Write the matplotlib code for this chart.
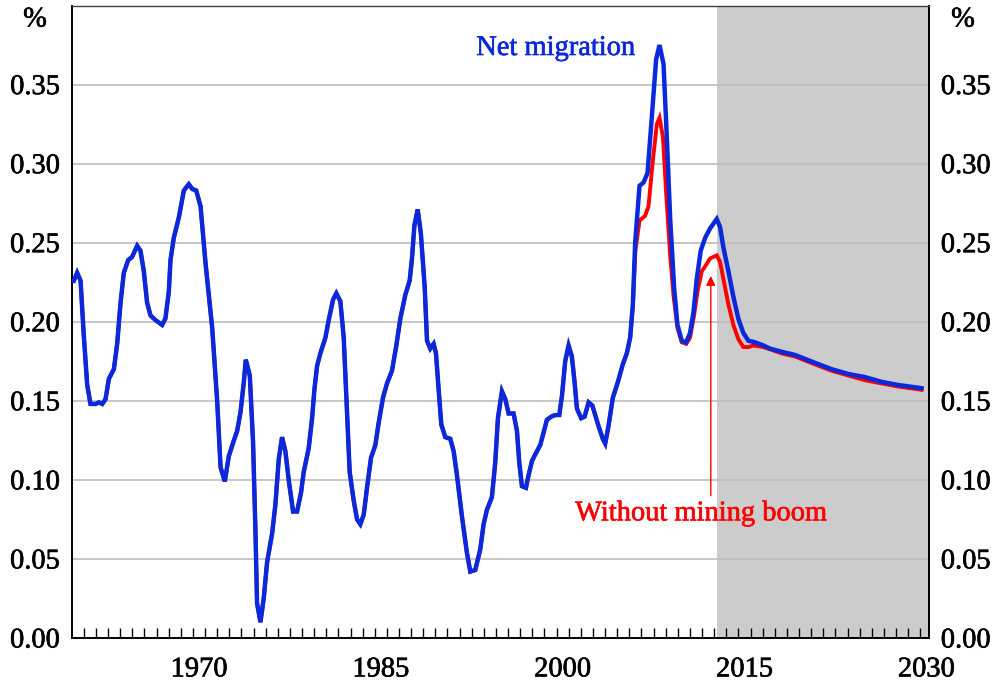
import numpy as np
import matplotlib
matplotlib.use("Agg")
import matplotlib.pyplot as plt
import matplotlib.patheffects as pe
from matplotlib.ticker import FixedLocator, NullFormatter, FixedFormatter

# ---------------- data ----------------
blue_t = [1960.18, 1960.45, 1960.73, 1961.00, 1961.28, 1961.55, 1961.97, 1962.24, 1962.52, 1962.79,
          1963.07, 1963.48, 1963.75, 1964.03, 1964.30, 1964.66, 1964.98, 1965.40, 1965.67, 1965.95,
          1966.22, 1966.50, 1966.91, 1967.46, 1967.73, 1968.01, 1968.15, 1968.42, 1968.84, 1969.25,
          1969.66, 1969.94, 1970.27, 1970.63, 1971.04, 1971.59, 1972.00, 1972.28, 1972.63, 1972.96,
          1973.38, 1973.65, 1973.93, 1974.20, 1974.36, 1974.69, 1974.96, 1975.16, 1975.29, 1975.57,
          1975.84, 1976.12, 1976.53, 1976.80, 1977.08, 1977.35, 1977.63, 1977.90, 1978.26, 1978.59,
          1978.92, 1979.14, 1979.55, 1979.83, 1980.02, 1980.24, 1980.51, 1980.93, 1981.20, 1981.56,
          1981.83, 1982.16, 1982.44, 1982.66, 1982.93, 1983.26, 1983.54, 1983.81, 1984.09, 1984.36,
          1984.69, 1985.05, 1985.32, 1985.68, 1986.01, 1986.42, 1986.78, 1987.11, 1987.52, 1987.88,
          1988.07, 1988.27, 1988.54, 1988.80, 1989.12, 1989.31, 1989.58, 1989.86, 1990.05, 1990.27,
          1990.49, 1990.82, 1991.23, 1991.51, 1991.78, 1992.19, 1992.60, 1992.88, 1993.29, 1993.70,
          1993.98, 1994.25, 1994.66, 1994.94, 1995.16, 1995.49, 1995.77, 1996.04, 1996.45, 1996.73,
          1996.92, 1997.14, 1997.47, 1997.69, 1997.97, 1998.30, 1998.65, 1998.93, 1999.20, 1999.56,
          1999.89, 2000.22, 2000.44, 2000.71, 2000.99, 2001.26, 2001.48, 2001.68, 2002.03, 2002.31,
          2002.64, 2002.95, 2003.46, 2003.81, 2004.01, 2004.28, 2004.64, 2005.02, 2005.46, 2005.79,
          2006.07, 2006.29, 2006.48, 2006.84, 2007.17, 2007.50, 2007.86, 2008.21, 2008.49, 2008.82,
          2009.09, 2009.37, 2009.70, 2009.97, 2010.33, 2010.69, 2011.01, 2011.29, 2011.56, 2011.89,
          2012.25, 2012.66, 2013.21, 2013.48, 2013.76, 2014.17, 2014.58, 2014.99, 2015.40, 2015.82,
          2016.37, 2017.06, 2017.61, 2018.57, 2019.67, 2021.32, 2022.69, 2024.06, 2025.44, 2026.81,
          2028.19, 2030.10]
blue_v = [0.226, 0.231, 0.226, 0.191, 0.160, 0.148, 0.148, 0.149, 0.148, 0.151,
          0.164, 0.170, 0.186, 0.212, 0.231, 0.239, 0.241, 0.248, 0.245, 0.232,
          0.212, 0.204, 0.201, 0.198, 0.202, 0.219, 0.239, 0.253, 0.266, 0.283,
          0.287, 0.284, 0.283, 0.273, 0.237, 0.196, 0.150, 0.108, 0.099, 0.115,
          0.125, 0.131, 0.143, 0.162, 0.176, 0.166, 0.124, 0.067, 0.022, 0.010,
          0.025, 0.048, 0.066, 0.084, 0.113, 0.127, 0.118, 0.100, 0.080, 0.080,
          0.092, 0.105, 0.120, 0.139, 0.157, 0.172, 0.180, 0.190, 0.201, 0.214,
          0.218, 0.213, 0.190, 0.152, 0.105, 0.087, 0.075, 0.072, 0.078, 0.095,
          0.114, 0.122, 0.136, 0.152, 0.161, 0.169, 0.185, 0.202, 0.217, 0.226,
          0.240, 0.261, 0.271, 0.256, 0.222, 0.188, 0.183, 0.186, 0.180, 0.157,
          0.135, 0.127, 0.126, 0.118, 0.103, 0.077, 0.054, 0.042, 0.043, 0.056,
          0.072, 0.081, 0.089, 0.111, 0.139, 0.156, 0.151, 0.142, 0.142, 0.131,
          0.111, 0.096, 0.095, 0.103, 0.112, 0.117, 0.122, 0.130, 0.138, 0.140,
          0.141, 0.141, 0.153, 0.175, 0.185, 0.178, 0.162, 0.145, 0.139, 0.140,
          0.149, 0.147, 0.134, 0.126, 0.123, 0.134, 0.152, 0.161, 0.173, 0.180,
          0.190, 0.211, 0.250, 0.286, 0.288, 0.294, 0.330, 0.366, 0.375, 0.363,
          0.317, 0.265, 0.221, 0.198, 0.188, 0.187, 0.193, 0.206, 0.227, 0.245,
          0.253, 0.259, 0.265, 0.260, 0.247, 0.232, 0.216, 0.202, 0.193, 0.188,
          0.187, 0.185, 0.183, 0.181, 0.179, 0.174, 0.170, 0.167, 0.165, 0.162,
          0.160, 0.158]

# "Without mining boom" differs from net migration from 2006 onwards
red_t = [2006.29, 2006.50, 2006.84, 2007.30, 2007.58, 2007.94, 2008.27, 2008.49, 2008.77, 2009.04,
         2009.37, 2009.64, 2009.97, 2010.33, 2010.69, 2011.01, 2011.34, 2011.62, 2011.98, 2012.25,
         2012.66, 2013.21, 2013.48, 2013.76, 2014.17, 2014.58, 2014.99, 2015.40, 2015.82, 2016.23,
         2017.06, 2018.57, 2019.67, 2021.32, 2022.69, 2024.06, 2025.44, 2026.81, 2028.19, 2030.10]
red_v = [0.210, 0.245, 0.264, 0.267, 0.273, 0.302, 0.325, 0.329, 0.317, 0.281,
         0.242, 0.217, 0.196, 0.187, 0.186, 0.190, 0.204, 0.219, 0.232, 0.235,
         0.240, 0.242, 0.238, 0.227, 0.211, 0.198, 0.189, 0.184, 0.184, 0.185,
         0.184, 0.180, 0.178, 0.173, 0.169, 0.166, 0.163, 0.161, 0.159, 0.157]

forecast_start = 2013.25
label_years = [1970, 1985, 2000, 2015, 2030]
y_ticks = [0.00, 0.05, 0.10, 0.15, 0.20, 0.25, 0.30, 0.35]

# ---------------- style ----------------
BLUE = "#0a28dc"
RED = "#ff0000"
FONT = ["Liberation Serif", "DejaVu Serif"]
FS = 20.5
plt.rcParams["font.family"] = FONT


def heavy(color):
    return [pe.withStroke(linewidth=0.45, foreground=color)]


fig = plt.figure(figsize=(9.95, 6.85), dpi=100)
ax = fig.add_axes([71.7 / 995, 1 - 638 / 685, (929 - 71.7) / 995, (638 - 5.5) / 685])

x0, x1 = 1960.0, 2030.72
ax.set_xlim(x0, x1)
ax.set_ylim(0, 0.40)

ax.axvspan(forecast_start, x1, color="#cccccc", lw=0, zorder=0)
for yv in y_ticks[1:]:
    ax.axhline(yv, color="#bdbdbd", lw=1.2, zorder=1)

bt = np.array(blue_t)
bv = np.array(blue_v)
mask = bt < red_t[0]
rt = np.concatenate([bt[mask], red_t])
rv = np.concatenate([bv[mask], red_v])

ax.plot(rt, rv, color=RED, lw=2.8, zorder=3, solid_joinstyle="miter")
ax.plot(bt, bv, color=BLUE, lw=3.2, zorder=4, solid_joinstyle="miter")

# annotations
ax.text(1999.93, 0.3728, "Net migration", color=BLUE, fontsize=FS, ha="center", va="center",
        path_effects=heavy(BLUE))
ax.text(2011.93, 0.0785, "Without mining boom", color=RED, fontsize=FS, ha="center", va="center",
        path_effects=heavy(RED))
ax.annotate("", xy=(2012.72, 0.229), xytext=(2012.72, 0.090),
            arrowprops=dict(arrowstyle="-|>", color=RED, lw=1.0,
                            mutation_scale=14, shrinkA=0, shrinkB=0), zorder=5)

# x axis
ax.xaxis.set_major_locator(FixedLocator(np.arange(1961, 2031)))
ax.xaxis.set_major_formatter(NullFormatter())
ax.xaxis.set_minor_locator(FixedLocator([y + 0.5 for y in label_years]))
ax.xaxis.set_minor_formatter(FixedFormatter([str(y) for y in label_years]))
ax.tick_params(axis="x", which="major", direction="in", length=7.5, width=1.0, color="black")
ax.tick_params(axis="x", which="minor", length=0, pad=14, labelsize=FS)

# y axes
ax.set_yticks(y_ticks)
ax.set_yticklabels([f"{v:.2f}" for v in y_ticks])
ax.tick_params(axis="y", which="both", length=0, pad=8.5, labelsize=FS,
               left=True, right=True, labelleft=True, labelright=True)

for lbl in ax.get_xticklabels(minor=True) + ax.get_yticklabels():
    lbl.set_path_effects(heavy("black"))
for tk in ax.yaxis.get_major_ticks():
    tk.label2.set_path_effects(heavy("black"))

for side in ["left", "right", "bottom"]:
    ax.spines[side].set_color("black")
    ax.spines[side].set_linewidth(1.4)
ax.spines["top"].set_color("#404040")
ax.spines["top"].set_linewidth(1.0)

# % labels
fig.text(35 / 995, 1 - 20 / 685, "%", fontsize=FS, ha="center", va="center", path_effects=heavy("black"))
fig.text(963 / 995, 1 - 20 / 685, "%", fontsize=FS, ha="center", va="center", path_effects=heavy("black"))

fig.savefig("out.png", dpi=100)
